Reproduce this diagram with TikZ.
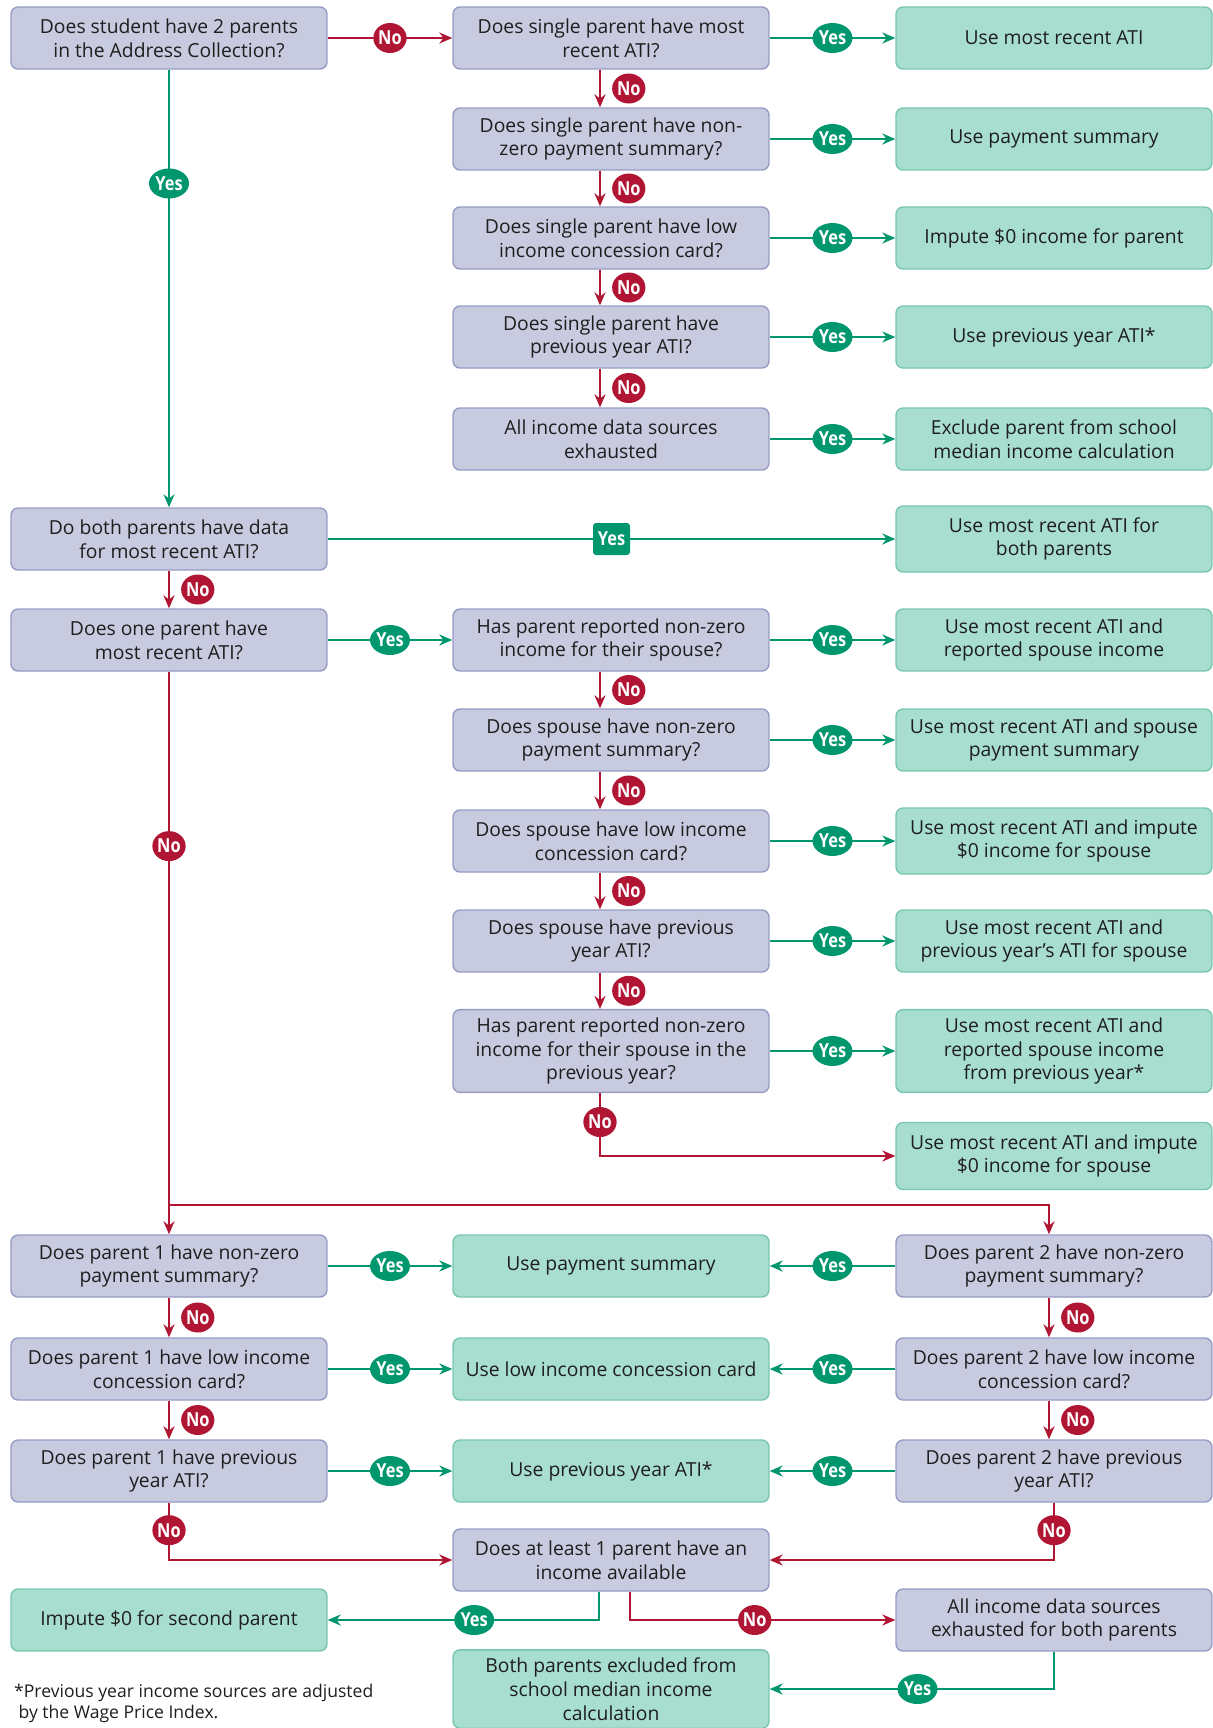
\documentclass[tikz,border=0pt]{standalone}
\usepackage{fontspec}
\setmainfont{Open Sans}
\newfontfamily\tagfont[FakeStretch=0.85]{Open Sans}
\usepackage{xcolor}
\usetikzlibrary{arrows.meta}
\usetikzlibrary{shapes.geometric}
\usetikzlibrary{positioning}

\definecolor{askfill}{RGB}{200,203,224}
\definecolor{askline}{RGB}{150,155,195}
\definecolor{actfill}{RGB}{168,222,207}
\definecolor{actline}{RGB}{120,198,176}
\definecolor{nored}{RGB}{176,22,52}
\definecolor{yesgreen}{RGB}{0,150,110}
\definecolor{ink}{RGB}{30,30,30}

\begin{document}
\begin{tikzpicture}[x=0.02cm,y=-0.02cm,
  >={Stealth[length=0.26cm,width=0.22cm]},
  box/.style={rectangle,rounded corners=0.14cm,line width=0.8pt,align=center,
    minimum width=6.32cm,minimum height=1.24cm,inner ysep=0.16cm,
    text=ink,font=\fontsize{11}{13.5}\selectfont},
  ask/.style={box,fill=askfill,draw=askline},
  act/.style={box,fill=actfill,draw=actline},
  noline/.style={draw=nored,line width=1.3pt},
  yesline/.style={draw=yesgreen,line width=1.3pt},
  nob/.style={ellipse,fill=nored,text=white,inner sep=0pt,minimum width=0.58cm,
    minimum height=0.6cm,font=\tagfont\bfseries\fontsize{11}{11}\selectfont},
  yesb/.style={nob,fill=yesgreen,minimum width=0.8cm},
  yesq/.style={yesb,rectangle,rounded corners=0.06cm,minimum width=0.74cm,minimum height=0.64cm}]
  \useasboundingbox (0,0) rectangle (1213,1728);

  \path (169,38)
    node[ask] (tp) {Does student have 2 parents\\in the Address Collection?} ++(0,501)
    node[ask] (bd) {Do both parents have data\\for most recent ATI?} ++(0,101)
    node[ask] (op) {Does one parent have\\most recent ATI?} ++(0,626)
    node[ask] (pa) {Does parent 1 have non-zero\\payment summary?} ++(0,103)
    node[ask] (pb) {Does parent 1 have low income\\concession card?} ++(0,102)
    node[ask] (pc) {Does parent 1 have previous\\year ATI?} ++(0,149)
    node[act] (iz) {Impute \$0 for second parent}
    ;
  \path (611,38)
    node[ask] (sa) {Does single parent have most\\recent ATI?} ++(0,101)
    node[ask] (sb) {Does single parent have non-\\zero payment summary?} ++(0,99)
    node[ask] (sc) {Does single parent have low\\income concession card?} ++(0,99)
    node[ask] (sd) {Does single parent have\\previous year ATI?} ++(0,102)
    node[ask] (se) {All income data sources\\exhausted} ++(0,201)
    node[ask] (ha) {Has parent reported non-zero\\income for their spouse?} ++(0,100)
    node[ask] (hb) {Does spouse have non-zero\\payment summary?} ++(0,101)
    node[ask] (hc) {Does spouse have low income\\concession card?} ++(0,100)
    node[ask] (hd) {Does spouse have previous\\year ATI?} ++(0,110)
    node[ask] (he) {Has parent reported non-zero\\income for their spouse in the\\previous year?} ++(0,215)
    node[act] (ua) {Use payment summary} ++(0,103)
    node[act] (ub) {Use low income concession card} ++(0,102)
    node[act] (uc) {Use previous year ATI*} ++(0,89)
    node[ask] (al) {Does at least 1 parent have an\\income available} ++(0,129)
    node[act,minimum height=1.56cm] (bx) {Both parents excluded from\\school median income\\calculation}
    ;
  \path (1054,38)
    node[act] (ra) {Use most recent ATI} ++(0,101)
    node[act] (rb) {Use payment summary} ++(0,99)
    node[act] (rc) {Impute \$0 income for parent} ++(0,99)
    node[act] (rd) {Use previous year ATI*} ++(0,102)
    node[act] (re) {Exclude parent from school\\median income calculation} ++(0,100)
    node[act,minimum height=1.32cm] (rf) {Use most recent ATI for\\both parents} ++(0,101)
    node[act] (rg) {Use most recent ATI and\\reported spouse income} ++(0,100)
    node[act] (rh) {Use most recent ATI and spouse\\payment summary} ++(0,101)
    node[act,minimum height=1.32cm] (ri) {Use most recent ATI and impute\\\$0 income for spouse} ++(0,100)
    node[act] (rj) {Use most recent ATI and\\previous year’s ATI for spouse} ++(0,110)
    node[act] (rk) {Use most recent ATI and\\reported spouse income\\from previous year*} ++(0,105)
    node[act,minimum height=1.34cm] (rl) {Use most recent ATI and impute\\\$0 income for spouse} ++(0,110)
    node[ask] (pd) {Does parent 2 have non-zero\\payment summary?} ++(0,103)
    node[ask] (pe) {Does parent 2 have low income\\concession card?} ++(0,102)
    node[ask] (pf) {Does parent 2 have previous\\year ATI?} ++(0,149)
    node[ask] (ax) {All income data sources\\exhausted for both parents}
    ;
  \node[anchor=west,align=left,text=ink,font=\fontsize{10}{12}\selectfont] (fn) at (8,1703)
    {*Previous year income sources are adjusted\\\hspace*{0.25em}by the Wage Price Index.};

  \draw[noline,->] (tp) -- node[nob] {No} (sa);
  \draw[yesline,->] (sa) -- node[yesb] {Yes} (ra);
  \draw[yesline,->] (sb) -- node[yesb] {Yes} (rb);
  \draw[yesline,->] (sc) -- node[yesb] {Yes} (rc);
  \draw[yesline,->] (sd) -- node[yesb] {Yes} (rd);
  \draw[yesline,->] (se) -- node[yesb] {Yes} (re);

  \path (node cs:name=sa,anchor=south) +(-11,0) coordinate (sao) {};
  \path (node cs:name=sb,anchor=north) +(-11,0) coordinate (sbi) {};
  \draw[noline,->] (sao) -- node[nob,right=0.22cm] {No} (sbi);
  \path (node cs:name=sb,anchor=south) +(-11,0) coordinate (sbo) {};
  \path (node cs:name=sc,anchor=north) +(-11,0) coordinate (sci) {};
  \draw[noline,->] (sbo) -- node[nob,right=0.22cm] {No} (sci);
  \path (node cs:name=sc,anchor=south) +(-11,0) coordinate (sco) {};
  \path (node cs:name=sd,anchor=north) +(-11,0) coordinate (sdi) {};
  \draw[noline,->] (sco) -- node[nob,right=0.22cm] {No} (sdi);
  \path (node cs:name=sd,anchor=south) +(-11,0) coordinate (sdo) {};
  \path (node cs:name=se,anchor=north) +(-11,0) coordinate (sei) {};
  \draw[noline,->] (sdo) -- node[nob,right=0.22cm] {No} (sei);

  \draw[yesline,->] (tp) -- node[yesb,pos=.26] {Yes} (bd);
  \draw[yesline,->] (bd) -- node[yesq] {Yes} (rf);
  \draw[noline,->] (bd) -- node[nob,right=0.22cm] {No} (op);
  \draw[yesline,->] (op) -- node[yesb] {Yes} (ha);

  \draw[yesline,->] (ha) -- node[yesb] {Yes} (rg);
  \draw[yesline,->] (hb) -- node[yesb] {Yes} (rh);
  \draw[yesline,->] (hc) -- node[yesb] {Yes} (ri);
  \draw[yesline,->] (hd) -- node[yesb] {Yes} (rj);
  \draw[yesline,->] (he) -- node[yesb] {Yes} (rk);

  \path (node cs:name=ha,anchor=south) +(-11,0) coordinate (hao) {};
  \path (node cs:name=hb,anchor=north) +(-11,0) coordinate (hbi) {};
  \draw[noline,->] (hao) -- node[nob,right=0.22cm] {No} (hbi);
  \path (node cs:name=hb,anchor=south) +(-11,0) coordinate (hbo) {};
  \path (node cs:name=hc,anchor=north) +(-11,0) coordinate (hci) {};
  \draw[noline,->] (hbo) -- node[nob,right=0.22cm] {No} (hci);
  \path (node cs:name=hc,anchor=south) +(-11,0) coordinate (hco) {};
  \path (node cs:name=hd,anchor=north) +(-11,0) coordinate (hdi) {};
  \draw[noline,->] (hco) -- node[nob,right=0.22cm] {No} (hdi);
  \path (node cs:name=hd,anchor=south) +(-11,0) coordinate (hdo) {};
  \path (node cs:name=he,anchor=north) +(-11,0) coordinate (hei) {};
  \draw[noline,->] (hdo) -- node[nob,right=0.22cm] {No} (hei);
  \path (node cs:name=he,anchor=south) +(-11,0) coordinate (heo) {};
  \draw[noline,->] (heo) |- node[nob,pos=.23] {No} (rl);

  \draw[noline,->] (op) -- node[nob,pos=.31] {No} (pa);
  \path (node cs:name=op,anchor=south) +(0,533) coordinate (opj) {};
  \path (node cs:name=pd,anchor=north) +(-5,0) coordinate (pdi) {};
  \draw[noline,->] (opj) -| (pdi);

  \draw[yesline,->] (pa) -- node[yesb] {Yes} (ua);
  \draw[yesline,->] (pd) -- node[yesb] {Yes} (ua);
  \draw[yesline,->] (pb) -- node[yesb] {Yes} (ub);
  \draw[yesline,->] (pe) -- node[yesb] {Yes} (ub);
  \draw[yesline,->] (pc) -- node[yesb] {Yes} (uc);
  \draw[yesline,->] (pf) -- node[yesb] {Yes} (uc);

  \draw[noline,->] (pa) -- node[nob,right=0.22cm] {No} (pb);
  \draw[noline,->] (pb) -- node[nob,right=0.22cm] {No} (pc);
  \path (node cs:name=pd,anchor=south) +(-5,0) coordinate (pdo) {};
  \path (node cs:name=pe,anchor=north) +(-5,0) coordinate (pei) {};
  \draw[noline,->] (pdo) -- node[nob,right=0.22cm] {No} (pei);
  \path (node cs:name=pe,anchor=south) +(-5,0) coordinate (peo) {};
  \path (node cs:name=pf,anchor=north) +(-5,0) coordinate (pfi) {};
  \draw[noline,->] (peo) -- node[nob,right=0.22cm] {No} (pfi);

  \draw[noline,->] (pc) |- node[nob,pos=.24] {No} (al);
  \draw[noline,->] (pf) |- node[nob,pos=.24] {No} (al);

  \path (node cs:name=al,anchor=south) +(-12,0) coordinate (aly) {};
  \path (node cs:name=al,anchor=south) +(19,0) coordinate (aln) {};
  \draw[yesline,->] (aly) |- node[yesb,pos=.73] {Yes} (iz);
  \draw[noline,->] (aln) |- node[nob,pos=.735] {No} (ax);
  \draw[yesline,->] (ax) |- node[yesb,pos=.74] {Yes} (bx);
\end{tikzpicture}
\end{document}
